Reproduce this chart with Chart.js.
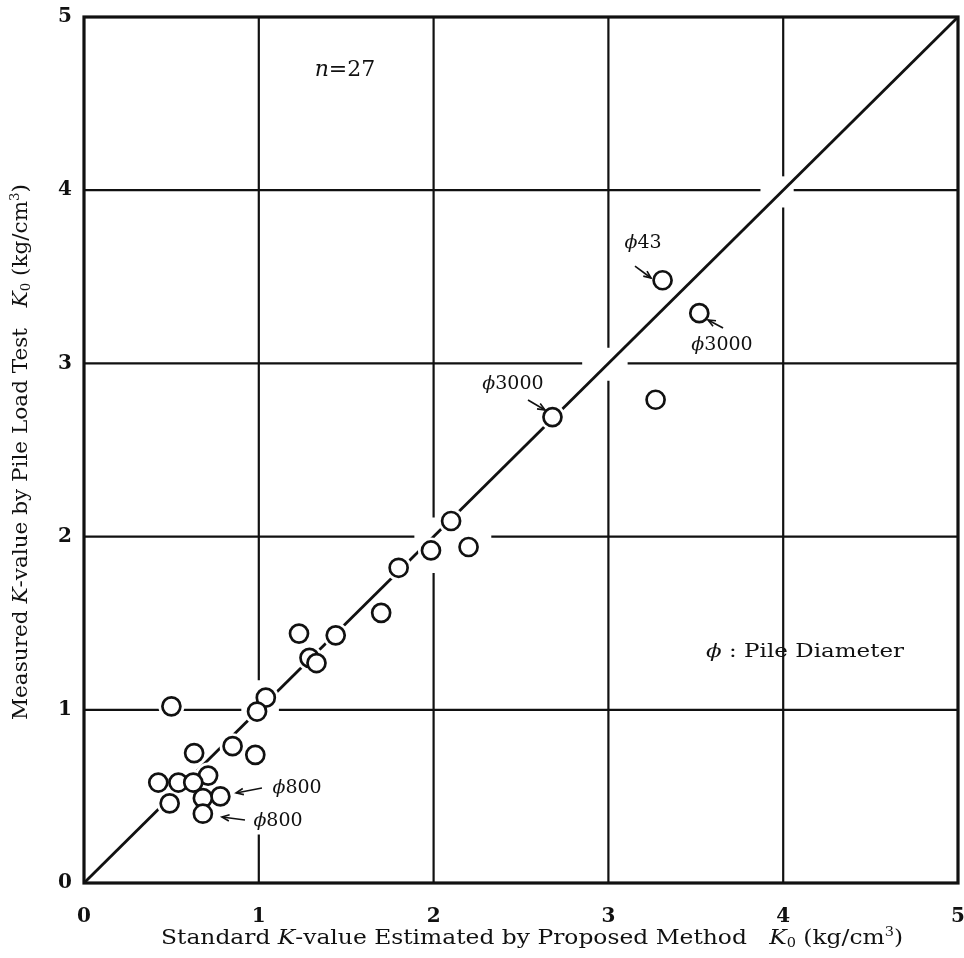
<!DOCTYPE html>
<html>
<head>
<meta charset="utf-8">
<script src="https://cdn.jsdelivr.net/npm/chart.js@4/dist/chart.umd.min.js"></script>
<style>
html,body{margin:0;padding:0;background:#fff;}
canvas{display:block;}
</style>
</head>
<body>
<canvas id="c" width="964" height="958"></canvas>
<script>
// ---- data ----
const estimatedK = [3.31, 3.52, 3.27, 2.68, 2.10, 1.985, 2.20, 1.80, 1.70, 1.44, 1.23, 1.29, 1.33, 1.04,
                    0.99, 0.50, 0.85, 0.98, 0.63, 0.71, 0.425, 0.54, 0.625, 0.78, 0.68, 0.49, 0.68];
const measuredK  = [3.48, 3.29, 2.79, 2.69, 2.09, 1.92, 1.94, 1.82, 1.56, 1.43, 1.44, 1.30, 1.27, 1.07,
                    0.99, 1.02, 0.79, 0.74, 0.75, 0.62, 0.58, 0.58, 0.58, 0.50, 0.49, 0.46, 0.40];
const tickLabels = ['0', '1', '2', '3', '4', '5'];
const equalityLine = [0, 5];
const pointLabels = ['ϕ43', 'ϕ3000', 'ϕ3000', 'ϕ800', 'ϕ800'];
const noteTexts = ['n', '=27', 'ϕ : Pile Diameter'];

// ---- layout / style config ----
const FONT = '"DejaVu Serif", "Liberation Serif", serif';
const points = estimatedK.map((x, i) => ({x, y: measuredK[i]}));
const linePts = equalityLine.map(v => ({x: v, y: v}));

// grid gaps (data units) - the printed grid is interrupted near the line
const vGrid = {1: [[0.28, 1.17]], 2: [[1.79, 2.11]], 3: [[2.90, 3.09]], 4: [[3.90, 4.08]]};
const hGrid = {1: [[0.90, 1.115]], 2: [[1.89, 2.33]], 3: [[2.85, 3.11]], 4: [[3.87, 4.06]]};

// label placement (data units): text centre, arrow from -> to
const labelPlace = [
  {i: 0, tx: 3.198, ty: 3.695, a: [3.152, 3.562, 3.244, 3.493], head: 'to'},
  {i: 1, tx: 3.650, ty: 3.106, a: [3.570, 3.251, 3.656, 3.204], head: 'to2'},
  {i: 2, tx: 2.454, ty: 2.881, a: [2.540, 2.789, 2.637, 2.731], head: 'to'},
  {i: 3, tx: 1.219, ty: 0.548, a: [1.018, 0.548, 0.870, 0.520], head: 'to'},
  {i: 4, tx: 1.110, ty: 0.358, a: [0.921, 0.364, 0.789, 0.381], head: 'to'}
];

function drawRich(ctx, segs, size, cx, cy, targetW, rot) {
  ctx.save();
  const fontOf = s => {
    const sz = (s.k === 'sub' || s.k === 'sup') ? size * 0.62 : size;
    return (s.k === 'i' ? 'italic ' : '') + sz + 'px ' + FONT;
  };
  let w = 0;
  segs.forEach(s => { ctx.font = fontOf(s); s.w = ctx.measureText(s.t).width; w += s.w; });
  ctx.translate(cx, cy);
  if (rot) ctx.rotate(rot);
  const sc = targetW ? targetW / w : 1;
  ctx.scale(sc, 1);
  ctx.fillStyle = '#111';
  ctx.textBaseline = 'middle';
  ctx.textAlign = 'left';
  let x = -w / 2;
  segs.forEach(s => {
    ctx.font = fontOf(s);
    let dy = 0;
    if (s.k === 'sub') dy = size * 0.25;
    if (s.k === 'sup') dy = -size * 0.32;
    ctx.fillText(s.t, x, dy);
    x += s.w;
  });
  ctx.restore();
}

function arrow(ctx, x1, y1, x2, y2) {
  ctx.beginPath();
  ctx.moveTo(x1, y1); ctx.lineTo(x2, y2); ctx.stroke();
  const ang = Math.atan2(y2 - y1, x2 - x1);
  const L = 8, A = 0.4;
  ctx.beginPath();
  ctx.moveTo(x2 - L * Math.cos(ang - A), y2 - L * Math.sin(ang - A));
  ctx.lineTo(x2, y2);
  ctx.lineTo(x2 - L * Math.cos(ang + A), y2 - L * Math.sin(ang + A));
  ctx.stroke();
}

const gridPlugin = {
  id: 'customGrid',
  beforeDatasetsDraw(chart) {
    const {ctx, scales: {x, y}} = chart;
    ctx.save();
    ctx.strokeStyle = '#111';
    ctx.lineWidth = 2.2;
    const segs = (gaps) => {
      const out = []; let s = 0;
      (gaps || []).forEach(g => { out.push([s, g[0]]); s = g[1]; });
      out.push([s, 5]); return out;
    };
    for (let v = 1; v <= 4; v++) {
      segs(vGrid[v]).forEach(([a, b]) => {
        ctx.beginPath();
        ctx.moveTo(x.getPixelForValue(v), y.getPixelForValue(a));
        ctx.lineTo(x.getPixelForValue(v), y.getPixelForValue(b));
        ctx.stroke();
      });
      segs(hGrid[v]).forEach(([a, b]) => {
        ctx.beginPath();
        ctx.moveTo(x.getPixelForValue(a), y.getPixelForValue(v));
        ctx.lineTo(x.getPixelForValue(b), y.getPixelForValue(v));
        ctx.stroke();
      });
    }
    ctx.restore();
  },
  afterDraw(chart) {
    const {ctx, chartArea: ca, scales: {x, y}} = chart;
    ctx.save();
    ctx.strokeStyle = '#111';
    ctx.lineWidth = 3.2;
    ctx.strokeRect(ca.left, ca.top, ca.right - ca.left, ca.bottom - ca.top);
    ctx.lineWidth = 1.6;
    ctx.fillStyle = '#111';
    labelPlace.forEach(p => {
      drawRich(ctx, [{t: pointLabels[p.i].slice(0, 1), k: 'i'}, {t: pointLabels[p.i].slice(1), k: 'n'}],
               19, x.getPixelForValue(p.tx), y.getPixelForValue(p.ty));
      const x1 = x.getPixelForValue(p.a[0]), y1 = y.getPixelForValue(p.a[1]);
      const x2 = x.getPixelForValue(p.a[2]), y2 = y.getPixelForValue(p.a[3]);
      if (p.head === 'to2') arrow(ctx, x2, y2, x1, y1); else arrow(ctx, x1, y1, x2, y2);
    });
    drawRich(ctx, [{t: noteTexts[0], k: 'i'}, {t: noteTexts[1], k: 'n'}], 22,
             x.getPixelForValue(1.493), y.getPixelForValue(4.694));
    drawRich(ctx, [{t: noteTexts[2].slice(0, 1), k: 'i'}, {t: noteTexts[2].slice(1), k: 'n'}], 19,
             x.getPixelForValue(4.125), y.getPixelForValue(1.334), 198);
    drawRich(ctx, [
      {t: 'Standard ', k: 'n'}, {t: 'K', k: 'i'}, {t: '-value Estimated by Proposed Method   ', k: 'n'},
      {t: 'K', k: 'i'}, {t: '0', k: 'sub'}, {t: ' (kg/cm', k: 'n'}, {t: '3', k: 'sup'}, {t: ')', k: 'n'}
    ], 20, 532, 939, 742, 0);
    drawRich(ctx, [
      {t: 'Measured ', k: 'n'}, {t: 'K', k: 'i'}, {t: '-value by Pile Load Test   ', k: 'n'},
      {t: 'K', k: 'i'}, {t: '0', k: 'sub'}, {t: ' (kg/cm', k: 'n'}, {t: '3', k: 'sup'}, {t: ')', k: 'n'}
    ], 20, 22, 452, 536, -Math.PI / 2);
    ctx.restore();
  }
};

const tickFont = {family: FONT, size: 20, weight: 'bold'};
const noPad = s => { s.paddingLeft = 0; s.paddingRight = 0; s.paddingTop = 0; s.paddingBottom = 0; };

new Chart(document.getElementById('c'), {
  type: 'scatter',
  data: {
    datasets: [
      {type: 'line', data: linePts, borderColor: '#111', borderWidth: 2.8, pointRadius: 0, order: 3, fill: false},
      {data: points, pointRadius: 13, backgroundColor: '#fff', borderWidth: 0, pointHoverRadius: 13, order: 2},
      {data: points, pointRadius: 9, backgroundColor: '#fff', borderColor: '#111', borderWidth: 2.7,
       pointHoverRadius: 9, order: 1}
    ]
  },
  options: {
    responsive: false,
    animation: false,
    events: [],
    layout: {autoPadding: false, padding: {top: 17, right: 6, left: 0, bottom: 0}},
    plugins: {legend: {display: false}, tooltip: {enabled: false}},
    scales: {
      x: {
        type: 'linear', min: 0, max: 5,
        afterFit: s => { s.height = 75; noPad(s); },
        grid: {display: false, drawTicks: false},
        border: {display: false},
        ticks: {stepSize: 1, padding: 22, color: '#111', font: tickFont, maxRotation: 0,
                callback: (v, i) => tickLabels[i]}
      },
      y: {
        type: 'linear', min: 0, max: 5,
        afterFit: s => { s.width = 84; noPad(s); },
        grid: {display: false, drawTicks: false},
        border: {display: false},
        ticks: {stepSize: 1, padding: 12, color: '#111', font: tickFont,
                callback: (v, i) => tickLabels[i]}
      }
    }
  },
  plugins: [gridPlugin]
});
</script>
</body>
</html>
